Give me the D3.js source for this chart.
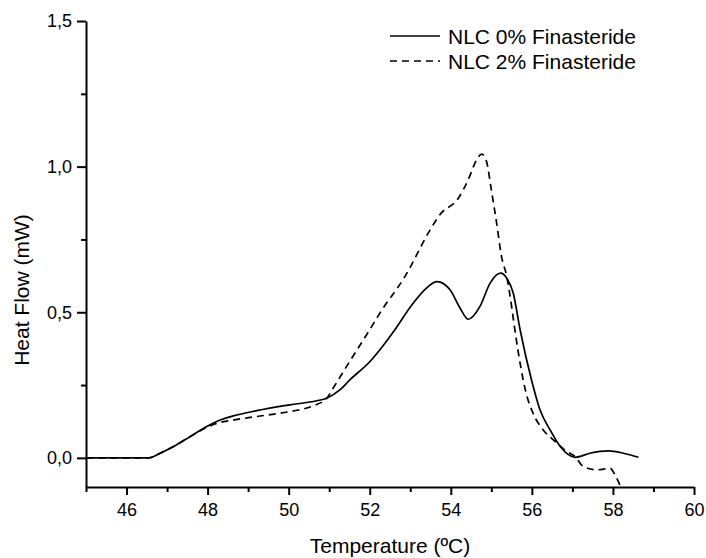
<!DOCTYPE html>
<html>
<head>
<meta charset="utf-8">
<script src="https://cdnjs.cloudflare.com/ajax/libs/d3/7.8.5/d3.min.js"></script>
<style>
  body { margin: 0; background: #fff; }
  svg text { font-family: Arial, "Liberation Sans", sans-serif; fill: #000; }
</style>
</head>
<body>
<div id="chart"></div>
<script>
// NLC 0% Finasteride (solid)
const temp0 = [45, 46, 46.54, 46.83, 47.16, 47.57, 47.98, 48.31, 48.63, 49.21, 50.03, 50.69, 50.94, 51.27, 51.51, 52.0, 52.3, 52.62, 53.07, 53.4, 53.66, 53.98, 54.23, 54.43, 54.72, 54.97, 55.23, 55.38, 55.54, 55.71, 55.99, 56.2, 56.45, 56.7, 57.07, 57.43, 57.89, 58.26, 58.63]
const flow0 = [0, 0, 0, 0.016, 0.039, 0.073, 0.108, 0.13, 0.144, 0.162, 0.182, 0.196, 0.205, 0.234, 0.268, 0.33, 0.38, 0.44, 0.531, 0.583, 0.605, 0.577, 0.514, 0.476, 0.52, 0.6, 0.634, 0.617, 0.566, 0.44, 0.268, 0.165, 0.096, 0.039, 0.002, 0.016, 0.024, 0.016, 0.002]

// NLC 2% Finasteride (dashed)
const temp2 = [45, 46, 46.54, 46.83, 47.16, 47.57, 47.98, 48.31, 48.55, 49.21, 50.03, 50.61, 50.94, 51.1, 51.5, 52.0, 52.25, 52.87, 53.49, 53.73, 54.19, 54.43, 54.64, 54.76, 54.88, 55.0, 55.13, 55.25, 55.38, 55.5, 55.58, 55.87, 56.03, 56.28, 56.53, 56.86, 57.07, 57.27, 57.6, 57.93, 58.05, 58.18]
const flow2 = [0, 0, 0, 0.016, 0.039, 0.073, 0.105, 0.122, 0.128, 0.142, 0.159, 0.179, 0.205, 0.24, 0.33, 0.44, 0.497, 0.623, 0.783, 0.835, 0.892, 0.955, 1.024, 1.043, 1.018, 0.92, 0.807, 0.692, 0.623, 0.52, 0.44, 0.216, 0.153, 0.096, 0.062, 0.022, 0.004, -0.03, -0.041, -0.036, -0.058, -0.096]

const xTicks = [46, 48, 50, 52, 54, 56, 58, 60]
const xMinor = [45, 47, 49, 51, 53, 55, 57, 59]
const yTicks = [0, 0.5, 1.0, 1.5]
const yMinor = [0.25, 0.75, 1.25]
const seriesNames = ["NLC 0% Finasteride", "NLC 2% Finasteride"]

const width = 706, height = 558
const plot = {left: 86, right: 694, top: 21, bottom: 487}

const svg = d3.select("#chart").append("svg")
    .attr("width", width)
    .attr("height", height)

const x = d3.scaleLinear().domain([45, 60]).range([plot.left, plot.right])
const y = d3.scaleLinear().domain([-0.1, 1.5]).range([plot.bottom, plot.top])

const fmt = d => d3.format(".1f")(d).replace(".", ",")

// minor ticks first, then the majors on top
svg.append("g")
    .attr("transform", `translate(0,${plot.bottom})`)
    .call(d3.axisBottom(x).tickValues(xMinor).tickSize(5).tickSizeOuter(0).tickFormat(""))
    .call(g => g.select(".domain").remove())

svg.append("g")
    .attr("transform", `translate(${plot.left},0)`)
    .call(d3.axisLeft(y).tickValues(yMinor).tickSize(5).tickSizeOuter(0).tickFormat(""))
    .call(g => g.select(".domain").remove())

const xAxis = svg.append("g")
    .attr("transform", `translate(0,${plot.bottom})`)
    .call(d3.axisBottom(x).tickValues(xTicks).tickSize(8).tickSizeOuter(0).tickPadding(8).tickFormat(d3.format("d")))
xAxis.selectAll("text").attr("font-size", 18)

const yAxis = svg.append("g")
    .attr("transform", `translate(${plot.left},0)`)
    .call(d3.axisLeft(y).tickValues(yTicks).tickSize(9).tickSizeOuter(0).tickPadding(5).tickFormat(fmt))
yAxis.selectAll("text").attr("font-size", 18)

svg.selectAll(".domain").attr("stroke", "#000").attr("stroke-width", 2)
svg.selectAll(".tick line").attr("stroke", "#000").attr("stroke-width", 2)
svg.selectAll(".tick text").attr("fill", "#000").attr("font-family", "Arial, 'Liberation Sans', sans-serif")

// axis titles
svg.append("text")
    .attr("x", (plot.left + plot.right) / 2)
    .attr("y", 553)
    .attr("text-anchor", "middle")
    .attr("font-size", 21)
    .text("Temperature (ºC)")

svg.append("text")
    .attr("transform", "translate(29,290) rotate(-90)")
    .attr("text-anchor", "middle")
    .attr("font-size", 21)
    .text("Heat Flow (mW)")

svg.append("clipPath").attr("id", "clip")
  .append("rect")
    .attr("x", plot.left).attr("y", plot.top)
    .attr("width", plot.right - plot.left).attr("height", plot.bottom - plot.top)

const line = d3.line()
    .curve(d3.curveMonotoneX)
    .x(d => x(d[0]))
    .y(d => y(d[1]))

const series = [
    {name: seriesNames[0], pts: d3.zip(temp0, flow0), dash: null},
    {name: seriesNames[1], pts: d3.zip(temp2, flow2), dash: "7,5"}
]

svg.append("g").attr("clip-path", "url(#clip)")
  .selectAll("path")
  .data(series)
  .enter()
  .append("path")
    .attr("d", d => line(d.pts))
    .attr("fill", "none")
    .attr("stroke", "#000")
    .attr("stroke-width", 1.7)
    .attr("stroke-dasharray", d => d.dash)

// legend
const items = svg.append("g")
  .selectAll("g")
    .data(series)
    .enter()
    .append("g")
    .attr("transform", (d, i) => `translate(390,${36 + i * 25})`)

items.append("line")
    .attr("x1", 0).attr("x2", 50)
    .attr("stroke", "#000")
    .attr("stroke-width", 1.7)
    .attr("stroke-dasharray", d => d.dash)

items.append("text")
    .attr("x", 58)
    .attr("y", 8)
    .attr("font-size", 21)
    .text(d => d.name)
</script>
</body>
</html>
